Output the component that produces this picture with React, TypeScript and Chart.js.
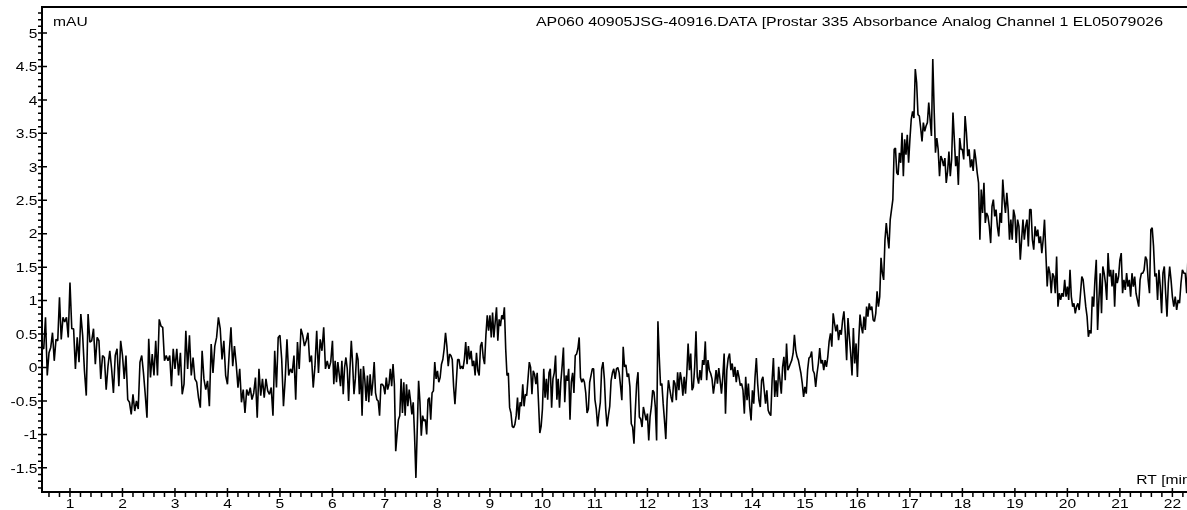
import { useEffect, useRef } from "react";
import { Chart, registerables } from "chart.js";

Chart.register(...registerables);

// ---------- text ----------
const TITLE = "AP060 40905JSG-40916.DATA [Prostar 335 Absorbance Analog Channel 1 EL05079026";
const Y_UNIT = "mAU";
const X_UNIT = "RT [min]";

// ---------- axes ----------
const X_MIN = 0.467;
const X_MAX = 22.45;
const Y_MIN = -1.861;
const Y_MAX = 5.389;
const X_TICKS = [1, 2, 3, 4, 5, 6, 7, 8, 9, 10, 11, 12, 13, 14, 15, 16, 17, 18, 19, 20, 21, 22];
const Y_TICKS = [-1.5, -1, -0.5, 0, 0.5, 1, 1.5, 2, 2.5, 3, 3.5, 4, 4.5, 5];

// ---------- trace (mAU), one array per minute window ----------
const SEGMENT_STARTS = [0.467, 1, 2, 3, 4, 5, 6, 7, 8, 9, 10, 11, 12, 13, 14, 15, 16, 17, 18, 19, 20, 21, 22];
const TRACE_END = 22.3;

const seg00 = [0.30, 0.28, 0.75, -0.12, 0.22, 0.30, 0.52, 0.10, 0.42, 0.40, 1.05, 0.42, 0.75, 0.68, 0.75, 0.45];
const seg01 = [1.27, 0.58, 0.58, -0.02, 0.45, 0.08, 0.80, 0.48, -0.05, -0.42, 0.80, 0.38, 0.40, 0.58, 0.05, 0.45, 0.40, -0.17, 0.18, 0.15, -0.33, 0.02, 0.25, -0.02, -0.38, 0.18, 0.28, -0.28, 0.40];
const seg02 = [0.18, -0.17, 0.18, -0.48, -0.52, -0.70, -0.40, -0.65, -0.50, -0.62, 0.08, 0.18, -0.08, -0.40, -0.75, 0.43, -0.15, 0.20, -0.12, 0.40, -0.12, 0.72, 0.62, 0.60, 0.10, 0.18, 0.10, 0.18, -0.28, 0.28];
const seg03 = [-0.02, 0.28, -0.12, 0.22, -0.40, -0.25, 0.55, -0.02, 0.48, -0.12, 0.15, -0.17, -0.22, -0.45, -0.60, 0.25, -0.17, -0.33, -0.20, -0.58, 0.35, -0.08, 0.32, 0.45, 0.75, 0.58, 0.12, 0.40, -0.12];
const seg04 = [-0.25, 0.22, 0.60, 0.02, 0.32, 0.05, -0.30, -0.02, -0.52, -0.33, -0.68, -0.33, -0.42, -0.30, -0.48, -0.38, -0.15, -0.75, -0.02, -0.42, -0.17, -0.45, -0.17, -0.35, -0.40, -0.30, -0.72, 0.25, -0.30, 0.45];
const seg05 = [0.48, 0.12, -0.58, -0.17, 0.42, -0.12, -0.02, -0.08, 0.18, -0.48, 0.38, -0.02, 0.58, 0.48, 0.32, 0.40, 0.52, 0.08, 0.18, -0.30, 0.02, 0.55, -0.08, 0.42, 0.25, 0.60, -0.02, 0.10, -0.02, 0.08];
const seg06 = [0.40, -0.25, 0.10, -0.22, 0.08, -0.10, -0.28, 0.10, -0.40, 0.00, 0.15, -0.02, -0.50, -0.02, 0.40, 0.05, -0.40, -0.17, 0.22, 0.12, -0.40, -0.02, -0.72, 0.02, -0.17, -0.50, -0.12, -0.52, -0.10, -0.42, -0.22, 0.08, -0.38, -0.48, -0.50, -0.72, -0.25, -0.25, -0.28];
const seg07 = [-0.40, -0.15, -0.33, -0.25, -0.02, -0.28, 0.05, -0.25, -1.25, -1.00, -0.78, -0.72, -0.17, -0.68, -0.22, -0.72, -0.25, -0.58, -0.33, -0.50, -0.70, -0.52, -1.02, -1.65, -0.92, -0.20, -0.52, -1.02, -0.72, -0.80, -0.78, -1.00, -0.48, -0.45, -0.78, -0.38, -0.35, 0.08, -0.17];
const seg08 = [-0.05, -0.22, -0.15, 0.05, 0.12, 0.28, 0.52, 0.32, 0.02, 0.20, 0.18, 0.12, -0.28, -0.55, -0.22, 0.12, 0.12, -0.02, 0.02, -0.02, 0.12, 0.38, 0.05, 0.32, 0.12, 0.25, 0.02, 0.10, -0.12, 0.22, -0.05, -0.12, 0.32, 0.38, 0.15, 0.05, 0.48, 0.78, 0.55];
const seg09 = [0.78, 0.45, 0.82, 0.45, 0.68, 0.90, 0.40, 0.72, 0.62, 0.78, 0.72, 0.90, 0.28, -0.12, -0.08, -0.60, -0.68, -0.88, -0.90, -0.85, -0.72, -0.45, -0.78, -0.52, -0.58, -0.25, -0.58, -0.40, -0.42, -0.17, 0.08, 0.00, -0.40, -0.05, -0.10, -0.25, -0.08, -0.52, -0.98, -0.88];
const seg10 = [-0.62, -0.02, -0.45, -0.17, -0.48, -0.08, -0.02, -0.60, -0.17, -0.08, 0.18, -0.48, -0.17, -0.60, -0.22, 0.02, 0.30, -0.52, -0.12, -0.20, -0.02, -0.78, -0.22, -0.08, -0.38, 0.18, 0.20, 0.28, 0.45, -0.15, -0.22, -0.17, -0.22, -0.38, -0.68, -0.62, -0.22, -0.12, -0.02, -0.02];
const seg11 = [-0.48, -0.62, -0.88, -0.68, -0.52, -0.02, 0.08, -0.17, -0.62, -0.88, -0.72, -0.58, -0.20, -0.08, -0.02, -0.17, -0.02, 0.00, -0.08, -0.27, -0.49, 0.31, 0.01, 0.04, -0.14, -0.09, -0.29, -0.84, -0.89, -1.14, -0.64, -0.24, -0.07, -0.74, -0.77, -0.89, -0.59, -0.69, -0.79];
const seg12 = [-0.69, -1.09, -0.74, -0.59, -0.34, -0.37, -0.59, -1.09, 0.69, 0.16, -0.27, -0.24, -0.54, -0.79, -1.07, -0.49, -0.19, -0.32, -0.44, -0.52, -0.19, -0.24, -0.49, -0.07, -0.34, -0.07, -0.19, -0.42, -0.14, -0.39, -0.09, 0.36, -0.04, 0.21, -0.34, -0.29, 0.01, 0.54, -0.14, -0.24];
const seg13 = [-0.04, -0.19, 0.11, 0.04, 0.39, -0.19, 0.11, -0.04, -0.09, -0.17, -0.39, -0.24, -0.04, -0.24, -0.01, -0.19, -0.39, -0.14, 0.21, -0.69, -0.04, 0.14, 0.21, -0.04, 0.06, -0.14, 0.01, -0.22, -0.04, -0.14, -0.27, -0.24, -0.34, -0.69, -0.14, -0.49, -0.24, -0.59, -0.79];
const seg14 = [-0.34, -0.54, -0.14, 0.14, -0.24, -0.49, -0.59, -0.19, -0.14, -0.34, -0.54, -0.34, -0.64, -0.69, -0.72, -0.19, 0.14, -0.44, -0.19, -0.44, 0.01, -0.19, -0.39, 0.01, 0.16, -0.19, 0.36, -0.04, 0.01, 0.06, 0.11, 0.21, 0.49, 0.26, 0.16, 0.11, 0.01, -0.09, -0.24, -0.44];
const seg15 = [-0.29, -0.39, -0.04, 0.14, 0.16, 0.24, -0.04, -0.09, -0.29, -0.09, 0.06, 0.29, 0.06, 0.11, -0.04, 0.11, 0.01, 0.16, 0.39, 0.51, 0.31, 0.81, 0.66, 0.54, 0.64, 0.41, 0.56, 0.49, 0.71, 0.84, 0.51, 0.11, 0.74, 0.46, 0.21, -0.12, 0.59, 0.06, 0.36];
const seg16 = [-0.14, 0.41, 0.79, 0.61, 0.51, 0.76, 0.56, 0.91, 0.76, 0.96, 0.86, 0.91, 0.71, 0.69, 0.81, 1.14, 0.91, 1.06, 1.64, 1.41, 1.31, 1.91, 2.16, 1.96, 1.78, 2.21, 2.36, 2.51, 3.26, 3.28, 2.91, 2.88, 3.21, 3.06, 3.51, 2.86, 3.41, 3.18, 3.48, 3.06];
const seg17 = [3.41, 3.71, 3.83, 3.73, 4.46, 4.26, 3.78, 3.76, 3.58, 3.38, 3.66, 3.53, 3.61, 3.66, 3.96, 3.71, 3.46, 4.61, 3.86, 3.21, 3.43, 3.26, 2.86, 3.16, 3.11, 3.01, 3.13, 2.76, 2.93, 3.23, 2.86, 3.11, 3.81, 3.41, 3.01, 3.16, 2.73, 3.43, 3.26];
const seg18 = [3.26, 3.11, 3.76, 3.51, 3.16, 3.26, 2.99, 3.11, 2.94, 3.26, 3.11, 2.91, 2.76, 1.91, 2.66, 2.31, 2.76, 2.16, 2.31, 2.26, 2.11, 1.86, 2.41, 2.51, 2.26, 2.36, 2.11, 1.96, 2.31, 2.16, 2.81, 2.51, 2.31, 2.61, 2.36, 1.91, 2.21, 1.91, 2.36];
const seg19 = [2.26, 1.86, 2.21, 2.11, 1.61, 1.91, 2.21, 1.91, 2.11, 2.21, 1.81, 2.36, 2.36, 1.91, 1.76, 2.11, 1.96, 2.06, 1.86, 1.96, 1.71, 1.91, 2.21, 1.71, 1.21, 1.51, 1.41, 1.11, 1.41, 1.36, 1.11, 1.66, 0.91, 1.11, 1.01, 1.11, 1.06, 1.31, 1.06];
const seg20 = [1.21, 1.01, 1.46, 1.06, 0.91, 0.96, 0.81, 0.91, 0.96, 0.86, 1.11, 1.36, 1.31, 1.11, 0.91, 0.76, 0.46, 0.56, 0.51, 1.06, 0.91, 1.31, 1.61, 0.56, 1.01, 1.41, 0.81, 1.51, 1.41, 1.26, 1.01, 1.71, 1.36, 1.46, 1.21, 1.46, 0.91, 1.41, 1.26, 1.36];
const seg21 = [1.61, 1.71, 1.11, 1.31, 1.16, 1.41, 1.21, 1.31, 1.06, 1.41, 1.21, 1.36, 1.11, 1.01, 0.91, 1.31, 1.41, 1.41, 1.46, 1.66, 1.61, 1.31, 1.11, 2.06, 2.09, 1.81, 1.36, 1.41, 1.01, 1.46, 1.21, 0.81, 1.41, 1.51, 1.11, 0.76, 1.26, 1.51, 1.31];
const seg22 = [1.06, 0.91, 1.06, 0.86, 1.01, 0.96, 1.26, 1.46, 1.41, 1.41, 1.11, 1.71];

const SEGMENTS = [seg00, seg01, seg02, seg03, seg04, seg05, seg06, seg07, seg08, seg09, seg10, seg11, seg12, seg13, seg14, seg15, seg16, seg17, seg18, seg19, seg20, seg21, seg22];

function buildPoints() {
  const pts: { x: number; y: number }[] = [];
  SEGMENTS.forEach((vals, k) => {
    const last = k === SEGMENTS.length - 1;
    const s = SEGMENT_STARTS[k];
    const e = last ? TRACE_END : SEGMENT_STARTS[k + 1];
    const n = last ? vals.length - 1 : vals.length;
    vals.forEach((v, i) => pts.push({ x: s + ((e - s) * i) / n, y: v }));
  });
  return pts;
}

// ---------- layout ----------
const CANVAS_W = 1240;
const CANVAS_H = 510;
const PLOT_LEFT = 42;
const PLOT_TOP = 7;
const PLOT_BOTTOM = 492;
const PLOT_RIGHT = 1196;
const FONT = '13px "Liberation Sans", Arial, sans-serif';
const TEXT_STRETCH = 1.2;
const TITLE_STRETCH = 1.223;

function drawText(
  ctx: CanvasRenderingContext2D,
  text: string,
  x: number,
  y: number,
  align: CanvasTextAlign,
  stretch: number = TEXT_STRETCH
) {
  ctx.save();
  ctx.translate(x, y);
  ctx.scale(stretch, 1);
  ctx.textAlign = align;
  ctx.textBaseline = "alphabetic";
  ctx.fillText(text, 0, 0);
  ctx.restore();
}

const decorPlugin = {
  id: "chromDecor",
  afterDraw(chart: any) {
    const { ctx, chartArea: a, scales } = chart;
    const xs = scales.x;
    const ys = scales.y;
    ctx.save();
    ctx.strokeStyle = "#000";
    ctx.fillStyle = "#000";
    ctx.lineCap = "butt";

    // frame: left axis, top line, bottom axis
    ctx.lineWidth = 2;
    ctx.beginPath();
    ctx.moveTo(a.left, a.bottom);
    ctx.lineTo(a.left, a.top);
    ctx.lineTo(a.right, a.top);
    ctx.moveTo(a.left - 1, a.bottom);
    ctx.lineTo(a.right, a.bottom);
    ctx.stroke();

    // y ticks (0.1 minor, 0.5 major)
    ctx.lineWidth = 1.5;
    ctx.beginPath();
    for (let k = Math.ceil(Y_MIN * 10); k <= Math.floor(Y_MAX * 10); k++) {
      const py = ys.getPixelForValue(k / 10);
      const major = k % 5 === 0;
      ctx.moveTo(a.left - 4, py);
      ctx.lineTo(major ? a.left + 5 : a.left, py);
    }
    // x ticks (0.2 minor, 1 major)
    for (let k = Math.ceil(X_MIN * 5); k <= Math.floor(X_MAX * 5); k++) {
      const px = xs.getPixelForValue(k / 5);
      const major = k % 5 === 0;
      ctx.moveTo(px, major ? a.bottom - 4 : a.bottom);
      ctx.lineTo(px, a.bottom + 5);
    }
    ctx.stroke();

    ctx.font = FONT;
    Y_TICKS.forEach((v) => {
      drawText(ctx, String(v), a.left - 4.5, ys.getPixelForValue(v) + 4.7, "right");
    });
    X_TICKS.forEach((v) => {
      drawText(ctx, String(v), xs.getPixelForValue(v), a.bottom + 15.5, "center");
    });

    drawText(ctx, Y_UNIT, a.left + 11, 26, "left");
    drawText(ctx, TITLE, 536, 26, "left", TITLE_STRETCH);
    drawText(ctx, X_UNIT, a.right - 1, a.bottom - 8, "right");
    ctx.restore();
  },
};

export default function App() {
  const ref = useRef<HTMLCanvasElement | null>(null);

  useEffect(() => {
    if (!ref.current) return;
    const chart = new Chart(ref.current, {
      type: "line",
      data: {
        datasets: [
          {
            data: buildPoints(),
            borderColor: "#000",
            borderWidth: 1.6,
            borderJoinStyle: "bevel",
            pointRadius: 0,
            tension: 0,
            fill: false,
          },
        ],
      },
      options: {
        responsive: false,
        animation: false,
        layout: {
          padding: { left: 0, top: PLOT_TOP, right: CANVAS_W - PLOT_RIGHT, bottom: 0 },
        },
        plugins: { legend: { display: false }, tooltip: { enabled: false } },
        scales: {
          x: {
            type: "linear",
            min: X_MIN,
            max: X_MAX,
            ticks: { display: false },
            grid: { display: false },
            border: { display: false },
            afterFit: (s: any) => {
              s.height = CANVAS_H - PLOT_BOTTOM;
            },
          },
          y: {
            type: "linear",
            min: Y_MIN,
            max: Y_MAX,
            ticks: { display: false },
            grid: { display: false },
            border: { display: false },
            afterFit: (s: any) => {
              s.width = PLOT_LEFT;
            },
          },
        },
      } as any,
      plugins: [decorPlugin],
    });
    return () => chart.destroy();
  }, []);

  return (
    <>
      <style>{"html,body{margin:0;padding:0;overflow:hidden;background:#fff}"}</style>
      <canvas ref={ref} width={CANVAS_W} height={CANVAS_H} style={{ display: "block" }} />
    </>
  );
}
